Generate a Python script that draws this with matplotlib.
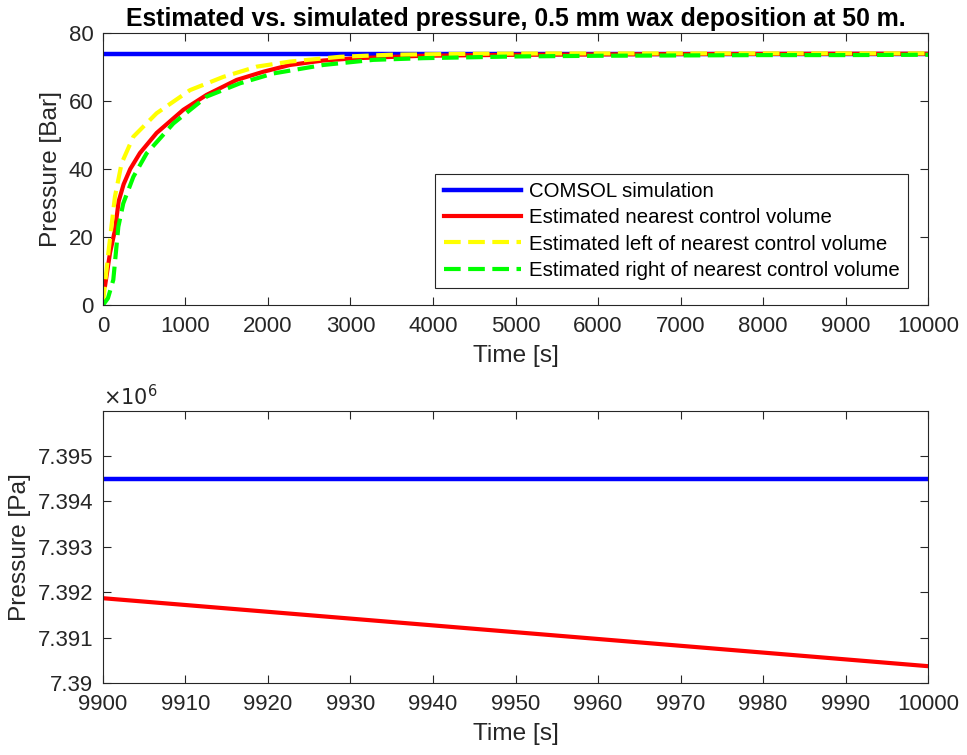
import matplotlib
matplotlib.use("Agg")
import matplotlib.pyplot as plt
from matplotlib.ticker import FuncFormatter, MultipleLocator

plt.rcParams['font.family'] = ['Liberation Sans', 'DejaVu Sans']

# top panel: pressure in bar
t_comsol = [0, 10000]
p_comsol = [73.945, 73.945]

t_near = [0, 24, 85, 145, 190, 250, 330, 448, 650, 973, 1256, 1620, 1943, 2267, 2667,
          3075, 3880, 5000, 6000, 7000, 8000, 9000, 10000]
p_near = [5.3, 5.5, 15.3, 22.0, 30.5, 35.5, 40.0, 44.7, 50.6, 57.4, 61.8, 66.2, 68.6, 70.6, 71.9,
          72.6, 73.3, 73.6, 73.7, 73.8, 73.85, 73.9, 73.9]

t_left = [0, 65, 145, 226, 368, 650, 1055, 1459, 1863, 2267, 2873, 3480,
          4500, 5500, 6500, 7500, 8500, 10000]
p_left = [0.5, 15.3, 31.9, 41.7, 49.5, 56.4, 63.2, 67.1, 70.1, 71.6, 73.0, 73.6,
          73.9, 74.0, 74.0, 74.0, 74.0, 74.0]

t_right = [0, 60, 125, 186, 246, 368, 529, 853, 1256, 1660, 2065, 2671, 3277, 3883,
           5000, 6000, 7000, 8000, 9000, 10000]
p_right = [0, 2.0, 7.4, 23.0, 29.9, 37.7, 44.6, 53.4, 61.3, 65.2, 68.1, 70.6, 72.1, 72.6,
           73.1, 73.3, 73.4, 73.5, 73.5, 73.6]

# bottom panel: zoom on the end, pressure in Pa
t_zoom = [9900, 10000]
pa_comsol = [7.394500e6, 7.394500e6]
pa_near = [7.391867e6, 7.390370e6]

grey = '#262626'

fig = plt.figure(figsize=(9.67, 7.55), dpi=100)
ax1 = fig.add_axes([0.1065, 0.596, 0.8532, 0.3603])
ax2 = fig.add_axes([0.1065, 0.0954, 0.8532, 0.3602])

ax1.plot(t_comsol, p_comsol, color='blue', lw=3.2, label='COMSOL simulation')
ax1.plot(t_near, p_near, color='red', lw=3, label='Estimated nearest control volume')
ax1.plot(t_left, p_left, color='yellow', lw=3, ls=(0, (4, 1.8)),
         label='Estimated left of nearest control volume')
ax1.plot(t_right, p_right, color='#00ff00', lw=3, ls=(0, (4, 1.8)),
         label='Estimated right of nearest control volume')

ax1.set_xlim(0, 10000)
ax1.set_ylim(0, 80)
ax1.xaxis.set_major_locator(MultipleLocator(1000))
ax1.yaxis.set_major_locator(MultipleLocator(20))
ax1.set_title('Estimated vs. simulated pressure, 0.5 mm wax deposition at 50 m.',
              fontsize=17.9, fontweight='bold', pad=5)
ax1.set_xlabel('Time [s]', fontsize=17.6, color=grey, labelpad=6)
ax1.set_ylabel('Pressure [Bar]', fontsize=17.6, color=grey, labelpad=5)
leg = ax1.legend(loc='lower right', bbox_to_anchor=(0.976, 0.0625), borderaxespad=0,
                 fontsize=14.7, fancybox=False, framealpha=1, edgecolor=grey,
                 handlelength=3.8, handletextpad=0.4, labelspacing=0.36,
                 borderpad=0.4)
leg.get_frame().set_linewidth(0.8)

ax2.plot(t_zoom, pa_comsol, color='blue', lw=3.2)
ax2.plot(t_zoom, pa_near, color='red', lw=3)
ax2.set_xlim(9900, 10000)
ax2.set_ylim(7.39e6, 7.39599e6)
ax2.xaxis.set_major_locator(MultipleLocator(10))
ax2.yaxis.set_major_locator(MultipleLocator(1000))
ax2.yaxis.set_major_formatter(FuncFormatter(lambda v, pos: '%g' % round(v / 1e6, 4)))
ax2.set_xlabel('Time [s]', fontsize=17.6, color=grey, labelpad=6)
ax2.set_ylabel('Pressure [Pa]', fontsize=17.6, color=grey, labelpad=5)
ax2.text(0.0, 1.005, r'$\times10^6$', transform=ax2.transAxes, fontsize=15,
         color=grey, ha='left', va='bottom')

for ax in (ax1, ax2):
    ax.tick_params(direction='in', top=True, right=True, labelsize=16,
                   colors=grey, length=6, width=0.8)
    ax.tick_params(axis='x', pad=8)
    ax.tick_params(axis='y', pad=7)
    for s in ax.spines.values():
        s.set_color(grey)
        s.set_linewidth(0.8)

fig.savefig('out.png', dpi=100)
